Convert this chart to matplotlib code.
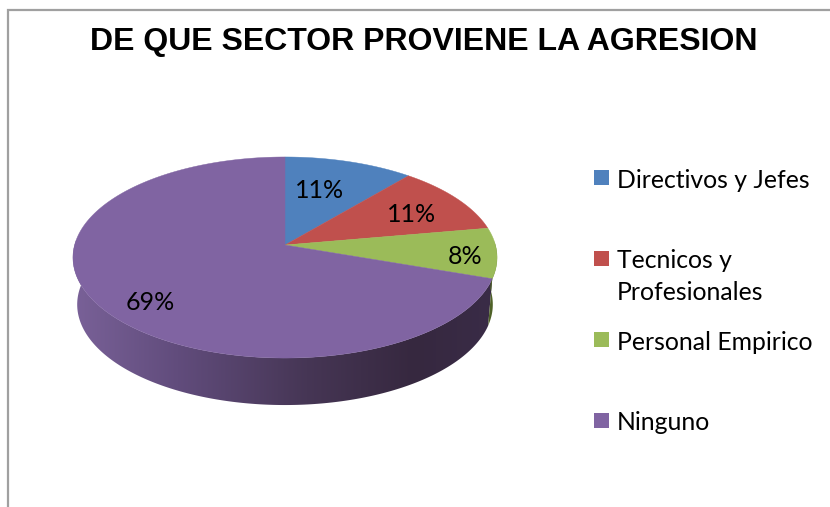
import numpy as np
import matplotlib
matplotlib.use('Agg')
import matplotlib.pyplot as plt
from matplotlib.colors import LinearSegmentedColormap
from matplotlib.patches import Polygon

titulo = 'DE QUE SECTOR PROVIENE LA AGRESION'
categorias = ['Directivos y Jefes', 'Tecnicos y\nProfesionales', 'Personal Empirico', 'Ninguno']
porcentajes = [11, 11, 8, 69]
colores = ['#4F81BD', '#C0504D', '#9BBB59', '#8064A2']

# posicion de etiquetas y leyenda, en pixeles
pos_etiquetas = [(320, 190), (412, 214), (465, 256), (150, 303)]
leyenda_y = [178, 259, 340, 421]


def proyectar(grados, escala=1.0, dy=0.0):
    # circulo unitario -> elipse en perspectiva (el centro no cae en el medio)
    t = np.radians(grados)
    u, v = np.sin(t), -np.cos(t)
    den = 1 - 0.1244 * v
    x = 285 + 210.4 * escala * u / den
    y = (68.5 * v + 245) / den
    return x, y + dy


fig, ax = plt.subplots(figsize=(8.3, 5.07), dpi=100)
ax.set_position([0, 0, 1, 1])

# marco gris
ax.plot([8, 8, 830], [507, 10, 10], color='#A0A0A0', lw=1.6, solid_joinstyle='miter')

angulos = np.cumsum([0] + porcentajes) / sum(porcentajes) * 360

# lateral del pastel, solo hasta el borde izquierdo de la elipse
prof = 47
esc_base = 0.98
a = np.linspace(angulos[3], 276, 200)
xt, yt = proyectar(a)
xb, yb = proyectar(a[::-1], esc_base, prof)
lateral = Polygon(np.r_[np.c_[xt, yt], np.c_[xb, yb]], closed=True, fc='none', ec='none')
ax.add_patch(lateral)
cmap = LinearSegmentedColormap.from_list('lado', [(0, '#7A6299'), (0.25, '#614C7C'), (0.55, '#463655'),
                                                  (0.8, '#36283F'), (1, '#3A2C48')])
img = ax.imshow(np.linspace(0, 1, 256).reshape(1, -1), cmap=cmap, aspect='auto', extent=(70, 500, 410, 240),
                zorder=1)
img.set_clip_path(lateral)

a = np.linspace(88, angulos[3], 40)
xt, yt = proyectar(a)
xb, yb = proyectar(a[::-1], esc_base, prof)
ax.fill(np.r_[xt, xb], np.r_[yt, yb], color='#4F6228', lw=0, zorder=1)

# cara superior
for i, c in enumerate(colores):
    a = np.linspace(angulos[i], angulos[i + 1], 200)
    x, y = proyectar(a)
    ax.fill(np.r_[285, x], np.r_[245, y], facecolor=c, edgecolor=c, lw=0.3, zorder=2)

for p, (x, y) in zip(porcentajes, pos_etiquetas):
    ax.text(x, y, f'{p}%', ha='center', va='center', fontsize=18, family='Lato', color='black', zorder=3)

# leyenda
for nombre, c, y in zip(categorias, colores, leyenda_y):
    ax.add_patch(plt.Rectangle((594, y - 8), 15, 15, fc=c, ec='none'))
    lineas = nombre.split('\n')
    for j, linea in enumerate(lineas):
        ax.text(617, y + 2 + j * 31, linea, ha='left', va='center', fontsize=17.8, family='Lato', color='black')

ax.text(424, 42, titulo, ha='center', va='center', fontsize=23, fontweight='bold',
        family='Liberation Sans', color='black')

ax.set_xlim(0, 830)
ax.set_ylim(507, 0)
ax.axis('off')
fig.savefig('out.png', dpi=100, facecolor='white')
